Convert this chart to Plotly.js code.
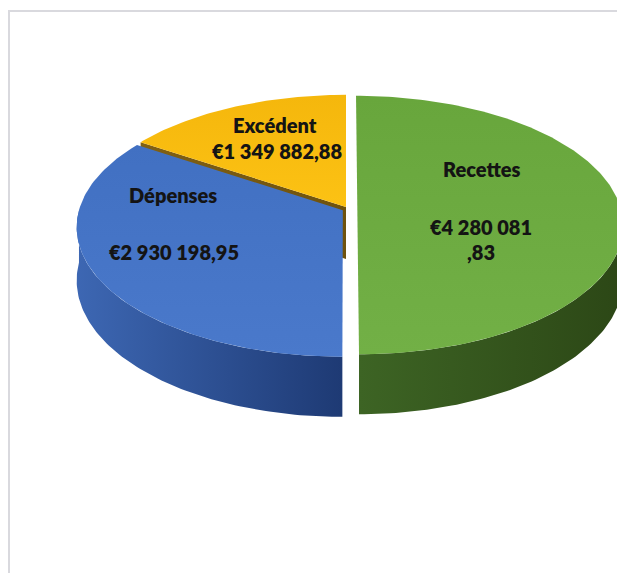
<!DOCTYPE html>
<html>
<head>
<meta charset="utf-8">
<script src="https://cdn.plot.ly/plotly-3.0.1.min.js"></script>
<style>
  html, body { margin: 0; padding: 0; background: #ffffff; }
  #chart { width: 617px; height: 573px; }
</style>
</head>
<body>
<div id="chart"></div>
<script>
// Budget split: income vs. spending and the resulting surplus
const categories = ['Recettes', 'Dépenses', 'Excédent'];
const amounts = [4280081.83, 2930198.95, 1349882.88];

// Styling for each slice (same order as categories)
const topColors = [
  ['#72b046', '#68a63c'],
  ['#4a79cb', '#4170c2'],
  ['#fcc214', '#f5b70c']
];
const wallColors = [
  ['#3d6424', '#2c4716'],
  ['#3d67b3', '#1e3a74'],
  ['#806014', '#6e520e']
];
// Explosion of each slice, in units of the pie radius (x right, z away from viewer)
const explode = [[0.043, -0.01], [-0.012, -0.025], [0, 0]];
// Label placement relative to each slice's projected centre, in pixels
const nameOffset = [[125, -39], [-170, -15], [-71, -82]];
const valueOffset = [[124, 19], [-169, 42], [-69, -56]];
const wrapValue = [true, false, false];

const W = 617, H = 573;
// Perspective view of the disc
const VIEW = { cx: 346, cy: 207, scale: 263, tilt: 28.8, persp: 0.148, height: 0.226 };
const LINE_GAP = 25;
const STEP = 1; // degrees per arc point

const ca = Math.cos(VIEW.tilt * Math.PI / 180);
const sa = Math.sin(VIEW.tilt * Math.PI / 180);

// depth scaling follows the distance into the scene; the wall drops straight down
function project(x, z, y) {
  const ratio = 1 + VIEW.persp * z * ca;
  return [VIEW.cx + VIEW.scale * x / ratio, VIEW.cy - VIEW.scale * (y * ca + z * sa) / ratio];
}

// angle measured clockwise from 12 o'clock, in degrees
function rim(off, deg, y) {
  const r = deg * Math.PI / 180;
  return project(off[0] + Math.sin(r), off[1] + Math.cos(r), y);
}

function arc(off, a0, a1, y) {
  const pts = [];
  const n = Math.max(2, Math.ceil(Math.abs(a1 - a0) / STEP));
  for (let i = 0; i <= n; i++) pts.push(rim(off, a0 + (a1 - a0) * i / n, y));
  return pts;
}

function fmtEuro(v) {
  const parts = v.toFixed(2).split('.');
  const grouped = parts[0].replace(/\B(?=(\d{3})+(?!\d))/g, ' ');
  return { whole: '€' + grouped, dec: ',' + parts[1] };
}

function polyTrace(pts, colors, dir) {
  return {
    type: 'scatter', mode: 'lines',
    x: pts.map(p => p[0]).concat([pts[0][0]]),
    y: pts.map(p => p[1]).concat([pts[0][1]]),
    fill: 'toself',
    line: { width: 0 },
    fillcolor: colors[0],
    fillgradient: { type: dir || 'horizontal', colorscale: [[0, colors[0]], [1, colors[1]]] },
    hoverinfo: 'skip', showlegend: false
  };
}

const total = amounts.reduce((s, v) => s + v, 0);
const spans = [];
let acc = 0;
amounts.forEach(v => {
  const a0 = acc / total * 360;
  acc += v;
  spans.push([a0, acc / total * 360]);
});

const backTraces = [];
const frontTraces = [];
const annotations = [];
const H3 = VIEW.height;

categories.forEach((name, i) => {
  const off = explode[i];
  const [a0, a1] = spans[i];
  const centreTop = project(off[0], off[1], 0);
  const list = (i === 2) ? backTraces : frontTraces;

  // radial wall on the leading edge of the back slice, seen through the gap
  if (i === 2) {
    const centreBot = project(off[0], off[1], -H3);
    list.push(polyTrace([centreTop, rim(off, a0, 0), rim(off, a0, -H3), centreBot], wallColors[i]));
  }

  // outer curved wall: the front half of the rim faces the viewer
  const w0 = Math.max(a0, 90), w1 = Math.min(a1, 270);
  if (w1 > w0) {
    const top = arc(off, w0, w1, 0);
    const bottom = arc(off, w1, w0, -H3);
    list.push(polyTrace(top.concat(bottom), wallColors[i]));
  }

  // top face
  const face = [centreTop].concat(arc(off, a0, a1, 0));
  list.push(polyTrace(face, topColors[i], 'vertical'));

  // labels
  const font = { family: 'Lato, "Open Sans", sans-serif', size: 20, color: '#141414', weight: 800 };
  annotations.push({
    x: centreTop[0] + nameOffset[i][0], y: centreTop[1] + nameOffset[i][1],
    xref: 'x', yref: 'y', text: name, showarrow: false,
    xanchor: 'center', yanchor: 'middle', font: font
  });
  const f = fmtEuro(amounts[i]);
  const lines = wrapValue[i] ? [f.whole, f.dec] : [f.whole + f.dec];
  lines.forEach((t, k) => {
    annotations.push({
      x: centreTop[0] + valueOffset[i][0], y: centreTop[1] + valueOffset[i][1] + k * LINE_GAP,
      xref: 'x', yref: 'y', text: t, showarrow: false,
      xanchor: 'center', yanchor: 'middle', font: font
    });
  });
});

const layout = {
  width: W, height: H,
  margin: { l: 0, r: 0, t: 0, b: 0 },
  paper_bgcolor: '#ffffff', plot_bgcolor: '#ffffff',
  xaxis: { range: [0, W], visible: false, fixedrange: true },
  yaxis: { range: [H, 0], visible: false, fixedrange: true },
  showlegend: false,
  hovermode: false,
  annotations: annotations,
  shapes: [{
    type: 'rect', xref: 'x', yref: 'y',
    x0: 9, y0: 11, x1: W + 20, y1: H + 20,
    line: { color: '#d9d9de', width: 2 }, fillcolor: 'rgba(0,0,0,0)', layer: 'below'
  }]
};

Plotly.newPlot('chart', backTraces.concat(frontTraces), layout, { staticPlot: true, displayModeBar: false });
</script>
</body>
</html>
